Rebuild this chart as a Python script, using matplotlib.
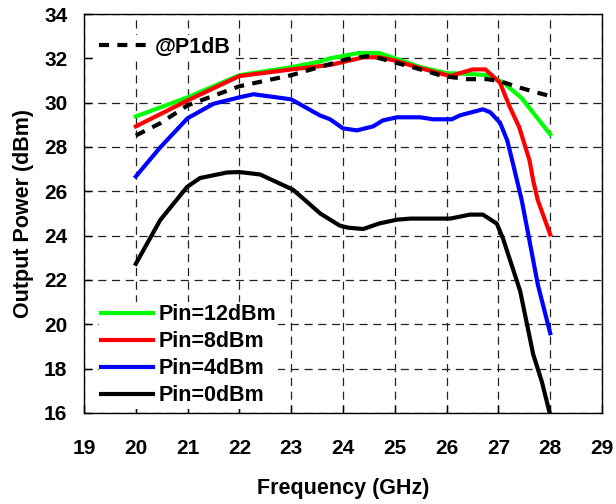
import matplotlib.pyplot as plt

plt.rcParams['font.family'] = ['Liberation Sans', 'DejaVu Sans']
plt.rcParams['font.weight'] = 'bold'

# Pin = 12 dBm
x_12 = [20, 21, 22, 23, 23.55, 23.75, 24.3, 24.7, 25.0, 25.5, 26.0, 26.4, 26.8, 27.1, 27.45, 28]
y_12 = [29.38, 30.24, 31.24, 31.6, 31.85, 32.0, 32.24, 32.24, 32.0, 31.6, 31.33, 31.3, 31.24, 30.9, 30.2, 28.57]

# Pin = 8 dBm
x_8 = [20, 21, 22, 23, 23.75, 24.4, 24.7, 25.0, 25.5, 26.07, 26.5, 26.75, 27.03, 27.22, 27.4, 27.6, 27.67, 27.76, 28]
y_8 = [28.93, 30.1, 31.2, 31.5, 31.7, 32.05, 32.05, 31.9, 31.55, 31.2, 31.5, 31.5, 30.9, 29.8, 28.9, 27.4, 26.5, 25.6, 24.05]

# Pin = 4 dBm
x_4 = [20, 20.47, 21, 21.5, 22, 22.27, 23, 23.55, 23.75, 24.0, 24.27, 24.58, 24.77, 25.04, 25.49, 25.74,
       26.1, 26.26, 26.7, 26.84, 27.03, 27.17, 27.28, 27.45, 27.6, 27.76, 28]
y_4 = [26.67, 27.98, 29.3, 29.95, 30.24, 30.38, 30.15, 29.43, 29.25, 28.84, 28.75, 28.93, 29.2, 29.34, 29.34, 29.25,
       29.25, 29.43, 29.7, 29.57, 29.1, 28.3, 27.26, 25.6, 23.77, 21.8, 19.6]

# Pin = 0 dBm
x_0 = [20, 20.47, 20.99, 21.24, 21.76, 22, 22.4, 23.03, 23.17, 23.56, 23.94, 24.1, 24.39, 24.7, 25.04, 25.3,
       26.07, 26.45, 26.7, 26.97, 27.09, 27.42, 27.67, 27.84, 28]
y_0 = [22.73, 24.7, 26.2, 26.6, 26.85, 26.87, 26.76, 26.08, 25.8, 25.0, 24.45, 24.36, 24.3, 24.55, 24.72, 24.77,
       24.77, 24.95, 24.95, 24.54, 23.86, 21.5, 18.66, 17.4, 15.9]

# output power at P1dB
x_p1db = [20, 20.47, 21, 22, 23, 24.07, 24.48, 24.71, 25.42, 25.93, 26.41, 26.78, 27.03, 27.38, 27.8, 28]
y_p1db = [28.52, 29.07, 29.88, 30.74, 31.24, 31.96, 32.1, 32.0, 31.55, 31.2, 31.06, 31.06, 30.97, 30.7, 30.42, 30.3]

x_ticks = list(range(19, 30))
y_ticks = list(range(16, 35, 2))


def main():
    fig = plt.figure(figsize=(6.16, 5.04), dpi=100)
    ax = fig.add_axes([0.1364, 0.1806, 0.8409, 0.7916])

    l12, = ax.plot(x_12, y_12, color='#00ff00', lw=3, label='Pin=12dBm')
    l8, = ax.plot(x_8, y_8, color='#ff0000', lw=3, label='Pin=8dBm')
    l4, = ax.plot(x_4, y_4, color='#0000ff', lw=3, label='Pin=4dBm')
    l0, = ax.plot(x_0, y_0, color='black', lw=3, label='Pin=0dBm')
    lp, = ax.plot(x_p1db, y_p1db, color='black', lw=3, linestyle=(0, (2.4, 2.0)), label='@P1dB')

    ax.set_xlim(19, 29)
    ax.set_ylim(16, 34)
    ax.set_xticks(x_ticks)
    ax.set_yticks(y_ticks)
    ax.tick_params(direction='in', length=6, width=1, labelsize=15)
    ax.tick_params(axis='x', pad=19)
    ax.tick_params(axis='y', pad=12)
    ax.grid(True, color='#222222', lw=0.9, linestyle=(0, (6.5, 4.5)))
    for s in ax.spines.values():
        s.set_linewidth(1)

    ax.set_xlabel('Frequency (GHz)', fontsize=15.5, fontweight='bold', labelpad=14)
    ax.set_ylabel('Output Power (dBm)', fontsize=15.5, fontweight='bold', labelpad=7)

    leg1 = ax.legend(handles=[lp], loc='upper left', bbox_to_anchor=(0.004, 0.975),
                     fontsize=15.5, handlelength=2.3, handletextpad=0.3,
                     frameon=True, facecolor='white', edgecolor='none', framealpha=1,
                     borderpad=0.1)
    ax.add_artist(leg1)
    ax.legend(handles=[l12, l8, l4, l0], loc='lower left', bbox_to_anchor=(0.008, -0.016),
              fontsize=15.5, handlelength=2.4, handletextpad=0.25, labelspacing=0.28,
              frameon=True, facecolor='white', edgecolor='none', framealpha=1,
              borderpad=0.1)

    fig.savefig('out.png', dpi=100)


if __name__ == "__main__":
    main()
